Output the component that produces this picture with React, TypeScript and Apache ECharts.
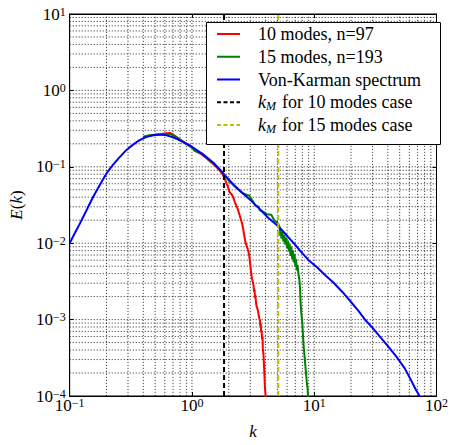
import React, { useEffect, useRef } from 'react';
import * as echarts from 'echarts';

// ---- data (k, E(k)) ----
const blueData: [number, number][] = [
  [0.1, 0.0100], [0.11, 0.0135], [0.12, 0.0175], [0.139, 0.028], [0.155, 0.040], [0.17, 0.052],
  [0.185, 0.066], [0.2, 0.082], [0.225, 0.105], [0.25, 0.128], [0.29, 0.165], [0.33, 0.195],
  [0.37, 0.222], [0.42, 0.245], [0.47, 0.256], [0.52, 0.262], [0.57, 0.262], [0.62, 0.258],
  [0.68, 0.247], [0.75, 0.232], [0.85, 0.210], [1.0, 0.183], [1.2, 0.150], [1.5, 0.113],
  [1.8, 0.082], [2.2, 0.058], [2.6, 0.045], [2.94, 0.038], [3.5, 0.029], [4.2, 0.0215],
  [5.08, 0.0167], [6.0, 0.0125], [7.0, 0.0095], [7.74, 0.0078], [9.0, 0.0060], [10.6, 0.0048],
  [12.3, 0.0038], [14.2, 0.0031], [17, 0.0023], [20, 0.0017], [23, 0.0013], [26.3, 0.00098],
  [30, 0.00078], [35, 0.00058], [41, 0.00043], [48.2, 0.00031], [55, 0.00023], [62, 0.00016],
  [68, 0.00012], [72.7, 0.0001], [80, 0.000072],
];

const redData: [number, number][] = [
  [0.40, 0.245], [0.45, 0.255], [0.5, 0.262], [0.56, 0.268], [0.62, 0.275], [0.66, 0.278],
  [0.70, 0.265], [0.75, 0.245], [0.80, 0.228], [0.87, 0.207], [0.95, 0.192], [1.02, 0.176],
  [1.1, 0.158], [1.2, 0.145], [1.3, 0.131], [1.4, 0.118], [1.5, 0.108], [1.58, 0.100],
  [1.69, 0.089], [1.78, 0.080], [1.87, 0.067], [1.95, 0.057], [2.04, 0.046], [2.10, 0.044],
  [2.16, 0.041], [2.25, 0.034], [2.37, 0.028], [2.48, 0.022], [2.58, 0.0177], [2.66, 0.0135],
  [2.73, 0.0105], [2.85, 0.0085], [2.93, 0.0072], [3.0, 0.0052], [3.05, 0.0041], [3.1, 0.0034],
  [3.15, 0.0031], [3.2, 0.0027], [3.22, 0.0023], [3.25, 0.0025], [3.28, 0.0019], [3.3, 0.0021],
  [3.35, 0.0016], [3.4, 0.00143], [3.45, 0.00135], [3.5, 0.0012], [3.55, 0.00105], [3.6, 0.00098],
  [3.62, 0.00082], [3.66, 0.00088], [3.68, 0.00068], [3.72, 0.00072], [3.74, 0.00055], [3.78, 0.0006],
  [3.8, 0.00042], [3.85, 0.00034], [3.9, 0.00022], [3.95, 0.00013], [4.05, 0.00008],
];

const greenData: [number, number][] = [
  [0.40, 0.248], [0.45, 0.258], [0.5, 0.262], [0.56, 0.264], [0.62, 0.268], [0.67, 0.268],
  [0.72, 0.252], [0.78, 0.232], [0.85, 0.212], [0.92, 0.195], [1.0, 0.178], [1.05, 0.162],
  [1.12, 0.155], [1.2, 0.150], [1.28, 0.138], [1.35, 0.128], [1.45, 0.115], [1.55, 0.105],
  [1.65, 0.096], [1.75, 0.087], [1.85, 0.077], [2.0, 0.066], [2.2, 0.057], [2.4, 0.050],
  [2.6, 0.045], [2.8, 0.043], [2.94, 0.042], [3.1, 0.037], [3.3, 0.031], [3.5, 0.030],
  [3.6, 0.027], [3.8, 0.026], [4.1, 0.024], [4.46, 0.0235], [4.7, 0.020], [4.9, 0.019],
  [5.1, 0.0177], [5.2, 0.0165], [5.25, 0.0125], [5.3, 0.0150], [5.4, 0.0115], [5.5, 0.0140],
  [5.6, 0.0105], [5.7, 0.0128], [5.8, 0.0096], [5.9, 0.0118], [6.0, 0.0086], [6.1, 0.0108],
  [6.2, 0.0078], [6.3, 0.0098], [6.4, 0.0068], [6.5, 0.0090], [6.6, 0.0062], [6.7, 0.0080],
  [6.8, 0.0056], [6.9, 0.0072], [7.0, 0.0050], [7.1, 0.0062], [7.2, 0.0044], [7.3, 0.0052],
  [7.45, 0.0038], [7.55, 0.0034], [7.65, 0.0026], [7.7, 0.0020], [7.75, 0.0016], [7.85, 0.0012],
  [8.0, 0.00087], [8.1, 0.0006], [8.2, 0.00045], [8.35, 0.00032], [8.5, 0.00023], [8.7, 0.00015],
  [8.8, 0.00013], [9.0, 0.00008],
];

const kM10 = 1.83;
const kM15 = 5.08;

const xMin = 0.1;
const xMax = 100;
const yMin = 1e-4;
const yMax = 10;

const xDecades = [0.1, 1, 10];
const yDecades = [1e-4, 1e-3, 1e-2, 1e-1, 1];
const minorMultipliers = [2, 3, 4, 5, 6, 7, 8, 9, 10];

const seriesNames = [
  '10 modes, n=97',
  '15 modes, n=193',
  'Von-Karman spectrum',
  'kM for 10 modes case',
  'kM for 15 modes case',
];
const seriesColors = ['#ff0000', '#008000', '#0000ff', '#000000', '#bfbf00'];

const FONT = 'Liberation Serif';
const FONT_CSS = '"Liberation Serif", serif';

function gridValues(decades: number[], max: number) {
  const out: number[] = [];
  decades.forEach((d) => minorMultipliers.forEach((m) => out.push(parseFloat((d * m).toPrecision(3)))));
  return out.filter((v) => v < max);
}

function tickLabel(v: number) {
  const e = Math.round(Math.log10(v));
  const s = e < 0 ? '\u2212' + String(-e) : String(e);
  return `{kk|10}{mm|${s}}`;
}

const tickRich = {
  kk: { fontFamily: FONT, fontSize: 17, lineHeight: 17, color: '#000', verticalAlign: 'bottom' },
  mm: { fontFamily: FONT, fontSize: 12, lineHeight: 12, padding: [0, 0, 7, 0], color: '#000', verticalAlign: 'top' },
};

function legendGraphic() {
  const left = 206, top = 22, width = 234, height = 122;
  const rowY = (i: number) => 34 + i * 22.75;
  const els: any[] = [
    {
      type: 'rect', z: 100, silent: true,
      shape: { x: left + 0.5, y: top + 0.5, width, height },
      style: { fill: '#fff', stroke: '#000', lineWidth: 1 },
    },
  ];
  seriesNames.forEach((name, i) => {
    const y = rowY(i);
    const dashed = i >= 3;
    els.push({
      type: 'line', z: 101, silent: true,
      shape: { x1: 217, y1: y, x2: 240, y2: y },
      style: { stroke: seriesColors[i], lineWidth: 2, lineDash: dashed ? [4, 2.5] : null },
    });
    if (!dashed) {
      els.push({
        type: 'text', z: 101, silent: true, x: 258, y,
        style: { text: name, fill: '#000', font: `18px ${FONT_CSS}`, verticalAlign: 'middle', align: 'left' },
      });
    } else {
      els.push({
        type: 'text', z: 101, silent: true, x: 258, y,
        style: { text: 'k', fill: '#000', font: `italic 18px ${FONT_CSS}`, verticalAlign: 'middle', align: 'left' },
      });
      els.push({
        type: 'text', z: 101, silent: true, x: 266, y: y + 4,
        style: { text: 'M', fill: '#000', font: `italic 12px ${FONT_CSS}`, verticalAlign: 'middle', align: 'left' },
      });
      els.push({
        type: 'text', z: 101, silent: true, x: 282, y,
        style: { text: name.slice(3), fill: '#000', font: `18px ${FONT_CSS}`, verticalAlign: 'middle', align: 'left' },
      });
    }
  });
  return els;
}

export default function App() {
  const ref = useRef<HTMLDivElement>(null);

  useEffect(() => {
    if (!ref.current) return;
    const chart = echarts.init(ref.current, undefined, { renderer: 'svg' });

    const gridLineStyle = { color: '#111', width: 0.9, type: [1.2, 1.8] as any, opacity: 0.85 };
    const axisLine = { show: true, onZero: false, lineStyle: { color: '#000', width: 1 } };
    const axisTick = { show: true, inside: true, length: 4, lineStyle: { color: '#000' } };

    const gridSeries: any[] = [
      ...gridValues(xDecades, xMax).map((v) => ({ data: [[v, yMin], [v, yMax]] })),
      ...gridValues(yDecades, yMax).map((v) => ({ data: [[xMin, v], [xMax, v]] })),
    ].map((g, i) => ({
      name: 'grid' + i,
      type: 'line',
      data: g.data,
      symbol: 'none',
      silent: true,
      z: 1,
      lineStyle: gridLineStyle,
      emphasis: { disabled: true },
    }));

    const option: any = {
      animation: false,
      backgroundColor: '#fff',
      grid: {
        left: 62, top: 14, right: 10, bottom: 33,
        show: true, borderColor: '#000', borderWidth: 1, backgroundColor: 'transparent',
      },
      graphic: { elements: legendGraphic() },
      xAxis: [
        {
          type: 'log', logBase: 10, min: xMin, max: xMax,
          name: '{i|k}', nameLocation: 'middle', nameGap: 27,
          nameTextStyle: { rich: { i: { fontFamily: FONT, fontSize: 17, fontStyle: 'italic', color: '#000' } } },
          axisLine, axisTick,
          splitLine: { show: false },
          axisLabel: {
            margin: 1, formatter: tickLabel, rich: tickRich, fontFamily: FONT, fontSize: 17, color: '#000',
            showMinLabel: true, showMaxLabel: true,
          },
        },
        {
          type: 'log', logBase: 10, min: xMin, max: xMax, position: 'top',
          axisLine, axisTick,
          splitLine: { show: false },
          axisLabel: { show: false },
        },
      ],
      yAxis: [
        {
          type: 'log', logBase: 10, min: yMin, max: yMax,
          name: '{i|E}{r|(}{i|k}{r|)}', nameLocation: 'middle', nameGap: 37,
          nameTextStyle: {
            rich: {
              i: { fontFamily: FONT, fontSize: 17, fontStyle: 'italic', color: '#000' },
              r: { fontFamily: FONT, fontSize: 17, color: '#000' },
            },
          },
          axisLine, axisTick,
          splitLine: { show: false },
          axisLabel: {
            margin: 4, formatter: tickLabel, rich: tickRich, fontFamily: FONT, fontSize: 17, color: '#000',
            showMinLabel: true, showMaxLabel: true,
          },
        },
        {
          type: 'log', logBase: 10, min: yMin, max: yMax, position: 'right',
          axisLine, axisTick,
          splitLine: { show: false },
          axisLabel: { show: false },
        },
      ],
      series: [
        ...gridSeries,
        {
          name: seriesNames[0], type: 'line', data: redData, showSymbol: false, symbol: 'none',
          lineStyle: { color: seriesColors[0], width: 2 }, itemStyle: { color: seriesColors[0] }, z: 3,
        },
        {
          name: seriesNames[1], type: 'line', data: greenData, showSymbol: false, symbol: 'none',
          lineStyle: { color: seriesColors[1], width: 2 }, itemStyle: { color: seriesColors[1] }, z: 3,
        },
        {
          name: seriesNames[2], type: 'line', data: blueData, showSymbol: false, symbol: 'none',
          lineStyle: { color: seriesColors[2], width: 2 }, itemStyle: { color: seriesColors[2] }, z: 3,
        },
        {
          name: seriesNames[3], type: 'line', data: [[kM10, yMin], [kM10, yMax]], showSymbol: false, symbol: 'none',
          lineStyle: { color: seriesColors[3], width: 2, type: [5, 3] }, itemStyle: { color: seriesColors[3] }, z: 4,
        },
        {
          name: seriesNames[4], type: 'line', data: [[kM15, yMin], [kM15, yMax]], showSymbol: false, symbol: 'none',
          lineStyle: { color: seriesColors[4], width: 2, type: [5, 3] }, itemStyle: { color: seriesColors[4] }, z: 4,
        },
      ],
    };

    chart.setOption(option);
    return () => chart.dispose();
  }, []);

  return (
    <div
      ref={ref}
      style={{ position: 'fixed', left: 0, top: 0, width: 451, height: 445, background: '#fff' }}
    />
  );
}
